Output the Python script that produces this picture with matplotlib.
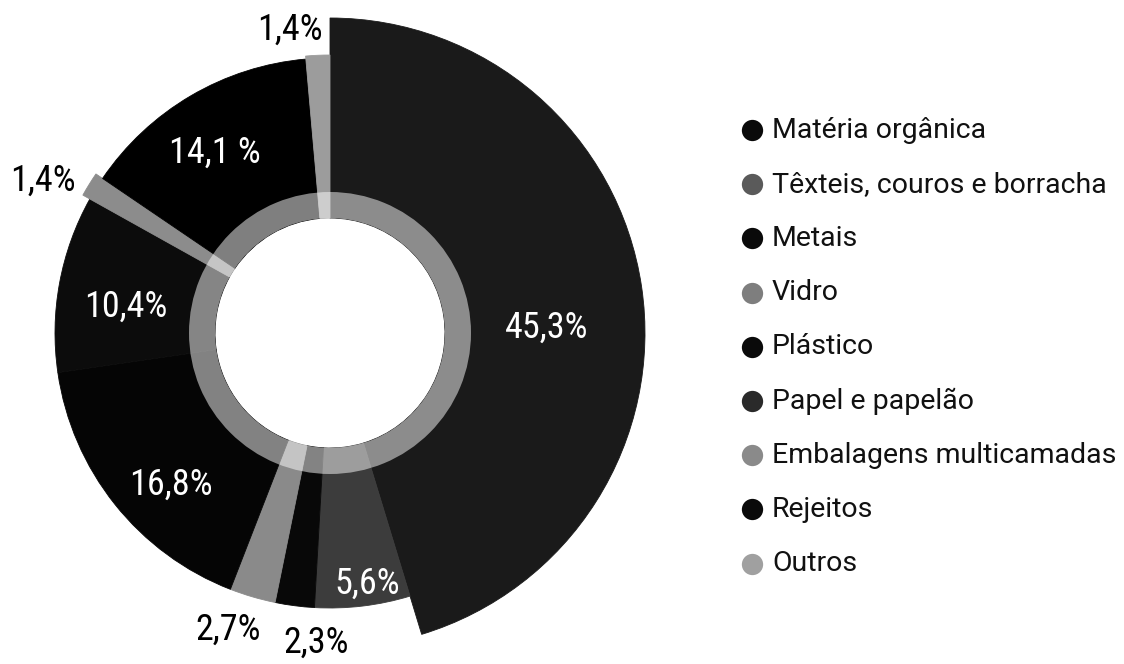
import numpy as np
import matplotlib
matplotlib.use("Agg")
import matplotlib.pyplot as plt
from matplotlib.patches import Wedge
from matplotlib import font_manager

# ---- data ----
categories = ["Matéria orgânica", "Têxteis, couros e borracha", "Metais", "Vidro",
              "Plástico", "Papel e papelão", "Embalagens multicamadas", "Rejeitos", "Outros"]
shares = [45.3, 5.6, 2.3, 2.7, 16.8, 10.4, 1.4, 14.1, 1.4]
value_labels = ["45,3%", "5,6%", "2,3%", "2,7%", "16,8%", "10,4%", "1,4%", "14,1 %", "1,4%"]

# ---- style ----
colors = ["#1a1a1a", "#3c3c3c", "#080808", "#8a8a8a", "#050505",
          "#0c0c0c", "#8c8c8c", "#000000", "#9c9c9c"]
legend_colors = ["#0a0a0a", "#5a5a5a", "#0a0a0a", "#7e7e7e", "#0a0a0a",
                 "#2a2a2a", "#8a8a8a", "#0a0a0a", "#a0a0a0"]
outer_r = [315, 275, 275, 275, 275, 275, 283, 275, 278]
hole_r = 115
band_r = 141
label_angle_off = [7.2, -1.6, -4.8, 2.6, -5.2, -3.1, -3.8, -2.0, -5.0]
label_r = [217, 253, 310, 314, 220, 206, 325, 214, 306]
label_color = ["white", "white", "black", "black", "white", "white", "black", "white", "black"]

W, H = 1124, 664
cx, cy = 330, 333

fig = plt.figure(figsize=(W / 100, H / 100), dpi=100)
ax = fig.add_axes([0, 0, 1, 1])
ax.set_xlim(-cx, W - cx)
ax.set_ylim(-(H - cy), cy)
ax.axis("off")

names = {f.name for f in font_manager.fontManager.ttflist}
if "Roboto Condensed" in names:
    label_kw = dict(family=["Roboto Condensed", "DejaVu Sans"], fontsize=26)
else:
    label_kw = dict(family=["Roboto", "DejaVu Sans"], fontsize=24)
legend_font = ["Roboto", "DejaVu Sans"]

total = sum(shares)
cum = np.concatenate([[0], np.cumsum(shares)]) / total
for i, s in enumerate(shares):
    a0 = 360 * cum[i]
    a1 = 360 * cum[i + 1]
    r = outer_r[i]
    w = Wedge((0, 0), r, 90 - a1, 90 - a0, width=r - hole_r,
              facecolor=colors[i], edgecolor=colors[i], linewidth=0.6)
    ax.add_patch(w)
    mid = (a0 + a1) / 2 + label_angle_off[i]
    rad = np.deg2rad(mid)
    x = label_r[i] * np.sin(rad)
    y = label_r[i] * np.cos(rad)
    ax.text(x, y, value_labels[i], ha="center", va="center",
            color=label_color[i], **label_kw)

# lighter inner band
ax.add_patch(Wedge((0, 0), band_r, 0, 360, width=band_r - hole_r,
                   facecolor="white", alpha=0.5, linewidth=0))

# legend
lx_marker = 752 - cx
lx_text = 772 - cx
ly0 = cy - 130
step = 54.2
for i, name in enumerate(categories):
    yy = ly0 - i * step
    ax.scatter([lx_marker], [yy], s=235, color=legend_colors[i], linewidths=0, zorder=5)
    ax.text(lx_text, yy, name, ha="left", va="center", fontsize=20.5,
            color="#111111", family=legend_font)

fig.savefig("out.png", dpi=100)
